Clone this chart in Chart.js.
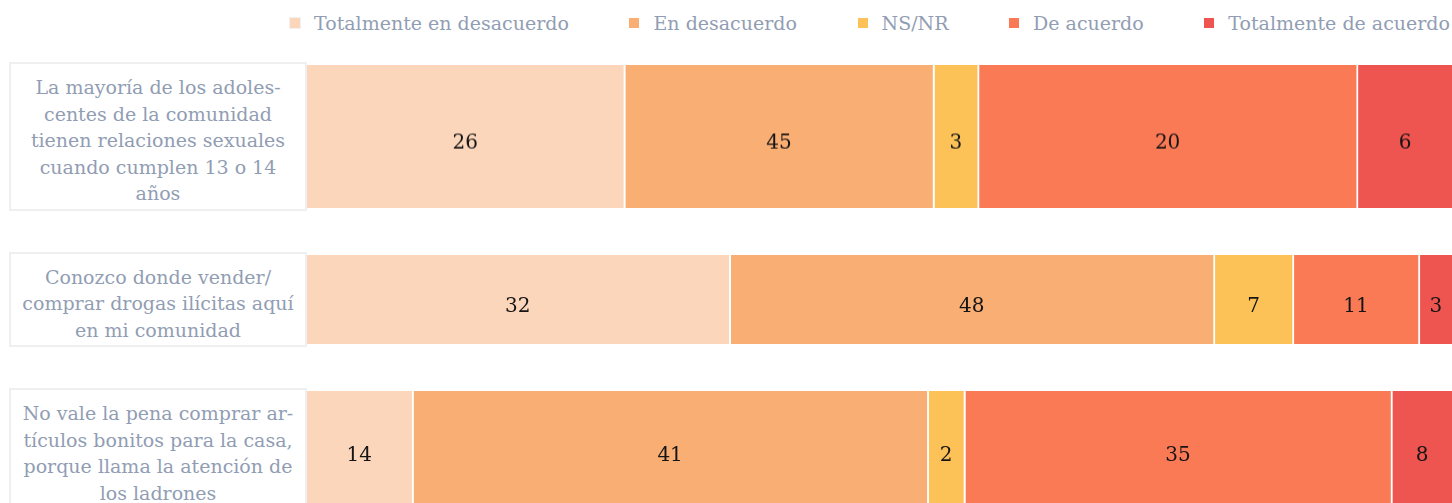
<!DOCTYPE html>
<html>
<head>
<meta charset="utf-8">
<script src="https://cdn.jsdelivr.net/npm/chart.js@4/dist/chart.umd.min.js"></script>
<style>
  html, body { margin: 0; padding: 0; background: #fff; }
  body { width: 1452px; height: 503px; overflow: hidden; position: relative; font-family: "DejaVu Serif", serif; color: #919db3; }
  #legend { position: absolute; left: 290px; right: 2px; top: 10px; height: 26px; display: flex; justify-content: space-between; align-items: center; font-size: 19px; white-space: nowrap; }
  .legend-item { display: flex; align-items: center; }
  .legend-box { width: 10px; height: 10px; margin-right: 14px; }
  #rows { position: absolute; left: 9px; top: 62px; width: 1443px; display: flex; flex-direction: column; gap: 41px; }
  .row { display: flex; }
  .label-box { box-sizing: border-box; width: 298px; flex: none; border: 2px solid #eeeff1; padding: 10px 4px 2px; display: flex; flex-direction: column; justify-content: center; text-align: center; font-size: 19px; line-height: 26.5px; white-space: nowrap; }
  .bar-cell { flex: 1; position: relative; }
  .bar-wrap { position: absolute; left: 0; right: 0; top: 3px; bottom: 3px; }
</style>
</head>
<body>
<div id="legend"></div>
<div id="rows"></div>
<script>
const categories = [
  ['La mayoría de los adoles-', 'centes de la comunidad', 'tienen relaciones sexuales', 'cuando cumplen 13 o 14', 'años'],
  ['Conozco donde vender/', 'comprar drogas ilícitas aquí', 'en mi comunidad'],
  ['No vale la pena comprar ar-', 'tículos bonitos para la casa,', 'porque llama la atención de', 'los ladrones']
];

const seriesNames = ['Totalmente en desacuerdo', 'En desacuerdo', 'NS/NR', 'De acuerdo', 'Totalmente de acuerdo'];

// segment lengths (share of the row, %)
const totalmenteEnDesacuerdo = [27.8, 37.0, 9.3];
const enDesacuerdo = [27.0, 42.3, 45.0];
const nsNr = [3.9, 6.9, 3.2];
const deAcuerdo = [33.1, 11.0, 37.3];
const totalmenteDeAcuerdo = [8.2, 2.8, 5.2];

// numbers printed on the segments
const labelTotalmenteEnDesacuerdo = [26, 32, 14];
const labelEnDesacuerdo = [45, 48, 41];
const labelNsNr = [3, 7, 2];
const labelDeAcuerdo = [20, 11, 35];
const labelTotalmenteDeAcuerdo = [6, 3, 8];

const seriesValues = [totalmenteEnDesacuerdo, enDesacuerdo, nsNr, deAcuerdo, totalmenteDeAcuerdo];
const seriesLabels = [labelTotalmenteEnDesacuerdo, labelEnDesacuerdo, labelNsNr, labelDeAcuerdo, labelTotalmenteDeAcuerdo];
const colors = ['#fbd6bb', '#f9ae74', '#fcc257', '#fb7a56', '#ee5450'];

const segmentLabels = {
  id: 'segmentLabels',
  afterDatasetsDraw(chart) {
    const ctx = chart.ctx;
    const last = chart.data.datasets.length - 1;
    ctx.save();
    ctx.font = '20px "DejaVu Serif"';
    ctx.fillStyle = '#151515';
    ctx.textAlign = 'center';
    ctx.textBaseline = 'alphabetic';
    chart.data.datasets.forEach((ds, i) => {
      const bar = chart.getDatasetMeta(i).data[0];
      if (!bar) return;
      const cx = (bar.x + bar.base) / 2 - (i < last ? 1 : 0);
      ctx.fillText(String(ds.printed), cx, bar.y + 12);
    });
    ctx.restore();
  }
};

function buildLegend() {
  const legend = document.getElementById('legend');
  seriesNames.forEach((name, i) => {
    const item = document.createElement('div');
    item.className = 'legend-item';
    const box = document.createElement('span');
    box.className = 'legend-box';
    box.style.background = colors[i];
    if (i === 0) box.style.boxShadow = '0 0 0 1px #f1f1f1';
    const text = document.createElement('span');
    text.textContent = name;
    item.appendChild(box);
    item.appendChild(text);
    legend.appendChild(item);
  });
}

function buildRows() {
  const rows = document.getElementById('rows');
  categories.forEach((lines, r) => {
    const row = document.createElement('div');
    row.className = 'row';
    const label = document.createElement('div');
    label.className = 'label-box';
    lines.forEach(line => {
      const d = document.createElement('div');
      d.textContent = line;
      label.appendChild(d);
    });
    const cell = document.createElement('div');
    cell.className = 'bar-cell';
    const wrap = document.createElement('div');
    wrap.className = 'bar-wrap';
    const canvas = document.createElement('canvas');
    wrap.appendChild(canvas);
    cell.appendChild(wrap);
    row.appendChild(label);
    row.appendChild(cell);
    rows.appendChild(row);
    drawRow(canvas, lines, r);
  });
}

function drawRow(canvas, lines, r) {
  const last = seriesNames.length - 1;
  new Chart(canvas, {
    type: 'bar',
    data: {
      labels: [lines],
      datasets: seriesNames.map((name, s) => ({
        label: name,
        data: [seriesValues[s][r]],
        printed: seriesLabels[s][r],
        backgroundColor: colors[s],
        borderColor: '#ffffff',
        borderWidth: s < last ? { right: 2 } : 0,
        borderSkipped: false,
        barPercentage: 1,
        categoryPercentage: 1
      }))
    },
    options: {
      indexAxis: 'y',
      responsive: true,
      maintainAspectRatio: false,
      animation: false,
      layout: { padding: 0 },
      plugins: {
        legend: { display: false },
        tooltip: { enabled: false }
      },
      scales: {
        x: { stacked: true, display: false, min: 0, max: 100 },
        y: { stacked: true, display: false }
      }
    },
    plugins: [segmentLabels]
  });
}

buildLegend();
buildRows();
</script>
</body>
</html>
